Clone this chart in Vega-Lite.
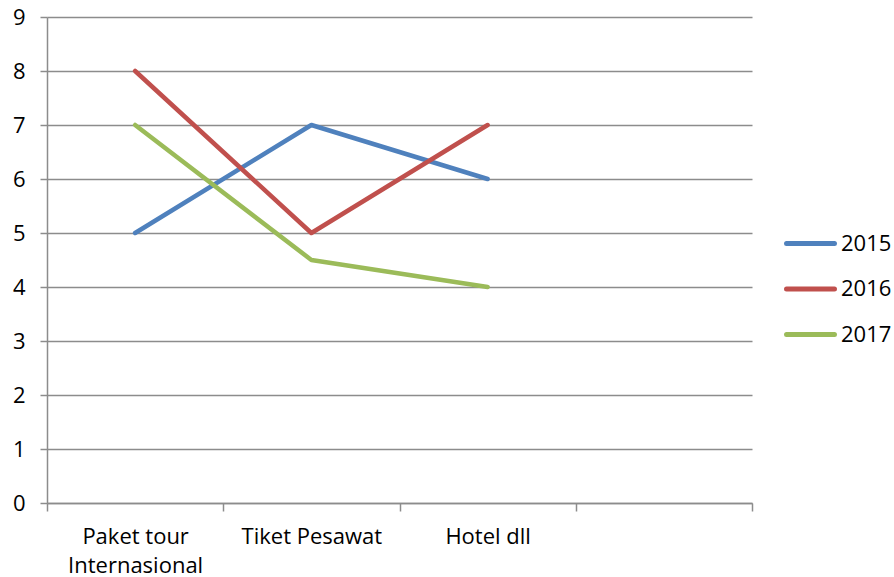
{
  "$schema": "https://vega.github.io/schema/vega-lite/v6.json",
  "width": 705,
  "height": 486,
  "autosize": {"type": "none"},
  "padding": {"left": 47, "top": 17, "right": 142, "bottom": 74},
  "background": "white",
  "config": {
    "view": {"stroke": null},
    "font": "Open Sans",
    "axis": {"labelFont": "Open Sans", "labelFontSize": 22, "labelColor": "#000000", "domainColor": "#8c8c8c", "tickColor": "#8c8c8c", "gridColor": "#8c8c8c", "domainWidth": 1.5, "tickWidth": 1.5, "gridWidth": 1.5, "title": null},
    "legend": {"labelFont": "Open Sans", "labelFontSize": 22, "labelColor": "#000000"}
  },
  "data": {"values": [
    {"cat": "Paket tour Internasional", "year": "2015", "v": 5},
    {"cat": "Tiket Pesawat", "year": "2015", "v": 7},
    {"cat": "Hotel dll", "year": "2015", "v": 6},
    {"cat": "Paket tour Internasional", "year": "2016", "v": 8},
    {"cat": "Tiket Pesawat", "year": "2016", "v": 5},
    {"cat": "Hotel dll", "year": "2016", "v": 7},
    {"cat": "Paket tour Internasional", "year": "2017", "v": 7},
    {"cat": "Tiket Pesawat", "year": "2017", "v": 4.5},
    {"cat": "Hotel dll", "year": "2017", "v": 4}
  ]},
  "mark": {"type": "line", "strokeWidth": 4.5, "strokeCap": "round", "strokeJoin": "round"},
  "encoding": {
    "x": {
      "field": "cat",
      "type": "nominal",
      "sort": null,
      "scale": {"type": "band", "domain": ["Paket tour Internasional", "Tiket Pesawat", "Hotel dll", " "], "paddingInner": 0, "paddingOuter": 0},
      "axis": {"labelAngle": 0, "tickBand": "extent", "tickSize": 8, "labelPadding": 15, "grid": false, "labelLineHeight": 29,
               "labelExpr": "datum.value == 'Paket tour Internasional' ? ['Paket tour', 'Internasional'] : datum.value"}
    },
    "y": {
      "field": "v",
      "type": "quantitative",
      "scale": {"domain": [0, 9], "nice": false},
      "axis": {"values": [0,1,2,3,4,5,6,7,8,9], "tickSize": 7, "labelPadding": 15, "grid": true}
    },
    "color": {
      "field": "year",
      "type": "nominal",
      "scale": {"domain": ["2015", "2016", "2017"], "range": ["#4F81BD", "#C0504D", "#9BBB59"]},
      "legend": {"title": null, "orient": "none", "legendX": 737, "legendY": 200, "symbolType": "stroke", "symbolSize": 2300, "symbolStrokeWidth": 5, "rowPadding": 7.5, "labelOffset": 4,
                 "encode": {"symbols": {"update": {"strokeCap": {"value": "round"}}}}}
    }
  }
}
